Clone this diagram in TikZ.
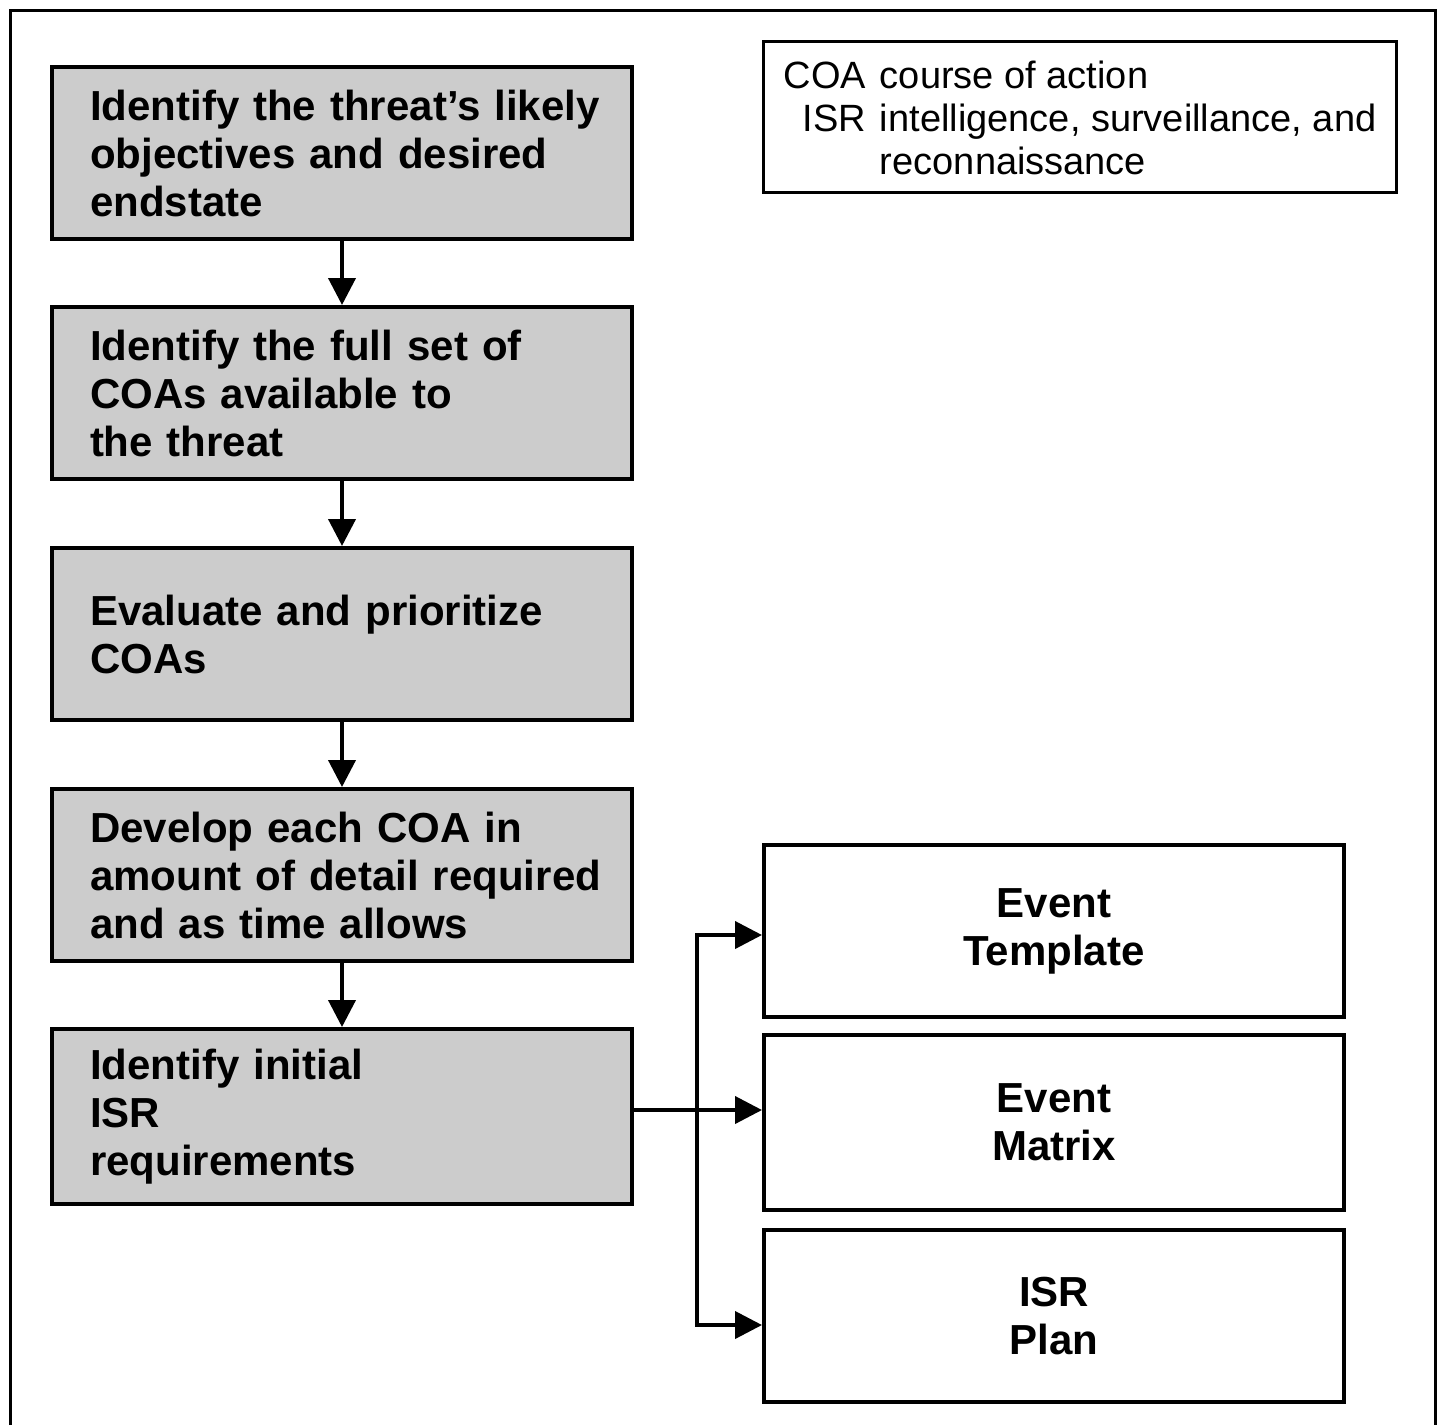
\documentclass[tikz,border=0pt]{standalone}
\usepackage{fontspec}
\setmainfont{Liberation Sans}
\usetikzlibrary{arrows.meta}
\definecolor{boxgray}{HTML}{CCCCCC}
\hfuzz=40pt
\begin{document}
\begin{tikzpicture}[x=1pt,y=-1pt,
  stepbox/.style={draw=black, line width=4pt, fill=boxgray,
    minimum width=580pt, minimum height=172pt, text width=504pt,
    inner xsep=37pt, inner ysep=0pt, align=left, anchor=north west,
    font=\bfseries\fontsize{42}{48}\selectfont},
  outbox/.style={draw=black, line width=4pt, fill=white,
    minimum width=580pt, minimum height=172pt, align=center,
    anchor=north west, font=\bfseries\fontsize{42}{48}\selectfont},
  legendbox/.style={draw=black, line width=3pt, fill=white,
    minimum width=633pt, minimum height=151pt, anchor=north west,
    inner sep=0pt, font=\fontsize{38}{43}\selectfont},
  conn/.style={line width=4pt},
  arr/.style={conn, -{Triangle[length=27pt,width=27pt]}}]

  % canvas and frame
  \useasboundingbox[fill=white] (0,0) rectangle (1442,1425);
  \draw[line width=3pt] (10,1425) -- (10,10) -- (1435,10) -- (1435,1425);

  % legend (extra head room pushes the lines a little lower)
  \node[legendbox] (legend) at (762,40)
    {\raisebox{0pt}[\dimexpr\height+12pt\relax]{\begin{tabular}{@{}r@{\hspace{14pt}}l@{}}
      COA & course of action\\
      ISR & intelligence, surveillance, and\\
          & reconnaissance
    \end{tabular}}};

  % main sequence
  \node[stepbox] (s1) at (50,65)   {\mbox{Identify the threat’s likely}\\objectives and desired\\endstate};
  \node[stepbox] (s2) at (50,305)  {Identify the full set of\\COAs available to\\the threat};
  \node[stepbox] (s3) at (50,546)  {Evaluate and prioritize\\COAs};
  \node[stepbox] (s4) at (50,787)  {Develop each COA in\\\mbox{amount of detail required}\\and as time allows};
  \node[stepbox, minimum height=175pt] (s5) at (50,1027) {Identify initial\\ISR\\requirements};

  % products
  \node[outbox] (tmpl) at (762,843)  {Event\\Template};
  \node[outbox, minimum height=175pt] (mtx) at (762,1033) {Event\\Matrix};
  \node[outbox] (plan) at (762,1228) {ISR\\Plan};

  % sequence arrows
  \draw[arr] (s1.south) -- (s2.north);
  \draw[arr] (s2.south) -- (s3.north);
  \draw[arr] (s3.south) -- (s4.north);
  \draw[arr] (s4.south) -- (s5.north);

  % branching to products
  \coordinate (trunk) at (697,1110);
  \coordinate (ttop) at (697,935);
  \coordinate (tbot) at (697,1325);
  \draw[conn] (s5.east |- trunk) -- (trunk);
  \draw[conn, line cap=rect] (ttop) -- (tbot);
  \draw[arr] (trunk) -- (trunk -| mtx.west);
  \draw[arr] (ttop) -- (ttop -| tmpl.west);
  \draw[arr] (tbot) -- (tbot -| plan.west);
\end{tikzpicture}
\end{document}
